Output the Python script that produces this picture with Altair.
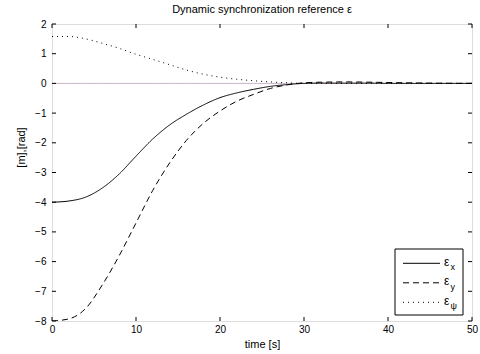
import altair as alt
import pandas as pd

# ---- data ----
t = [0, 2, 4, 6, 8, 10, 12, 14, 16, 18, 20, 22, 24, 26, 28, 30, 32, 35, 38, 40, 45, 50]
eps_x = [-4.00, -3.96, -3.83, -3.52, -3.05, -2.45, -1.87, -1.40, -1.04, -0.73, -0.48,
         -0.32, -0.20, -0.10, -0.04, 0.00, 0.01, 0.01, 0.01, 0.00, 0.00, 0.00]
eps_y = [-8.00, -7.93, -7.58, -6.78, -5.80, -4.70, -3.60, -2.68, -1.92, -1.35, -0.93,
         -0.60, -0.37, -0.17, -0.05, 0.02, 0.04, 0.05, 0.04, 0.03, 0.01, 0.00]
eps_psi = [1.58, 1.58, 1.50, 1.35, 1.18, 0.98, 0.81, 0.63, 0.45, 0.31, 0.21,
           0.14, 0.09, 0.05, 0.02, 0.00, 0.00, 0.00, 0.00, 0.00, 0.00, 0.00]
zero_ref = [0.0] * len(t)

series_names = ["x", "y", "psi"]
legend_subs = ["x", "y", "ψ"]
x_ticks = [0, 10, 20, 30, 40, 50]
y_ticks = [-8, -7, -6, -5, -4, -3, -2, -1, 0, 1, 2]

W, H = 420, 297
FONT = "Liberation Sans"
dashes = {"x": [1, 0], "y": [6, 4], "psi": [1, 4]}

rows = []
for name, vals in zip(series_names, [eps_x, eps_y, eps_psi]):
    for tt, v in zip(t, vals):
        rows.append({"t": tt, "v": v, "s": name})
df = pd.DataFrame(rows)
df_zero = pd.DataFrame({"t": t, "v": zero_ref})

xs = alt.Scale(domain=[0, 50], nice=False, zero=False)
ys = alt.Scale(domain=[-8, 2], nice=False, zero=False)

x_axis = alt.Axis(values=x_ticks, title="time [s]", ticks=False, domain=False,
                  grid=False, labelPadding=3, titlePadding=4,
                  labelOverlap=False, labelFlush=False, titleFontWeight="normal")
y_axis = alt.Axis(values=y_ticks, title="[m],[rad]", ticks=False, domain=False,
                  grid=False, labelPadding=6, titleX=-31, titleY=123,
                  titleAngle=270, titleAlign="center", titleBaseline="middle",
                  labelOverlap=False, labelFlush=False, titleFontWeight="normal")
x_enc = alt.X("t:Q", scale=xs, axis=x_axis)
y_enc = alt.Y("v:Q", scale=ys, axis=y_axis)

zero_line = alt.Chart(df_zero).mark_line(color="#cbb2c6", strokeWidth=1).encode(x=x_enc, y=y_enc)

curves = alt.Chart(df).mark_line(color="black", strokeWidth=1, interpolate="monotone", clip=True).encode(
    x=x_enc, y=y_enc,
    strokeDash=alt.StrokeDash("s:N", scale=alt.Scale(domain=series_names,
                                                     range=[dashes[s] for s in series_names]), legend=None),
    detail="s:N",
)

df_xt = pd.DataFrame({"t": x_ticks})
df_yt = pd.DataFrame({"v": y_ticks})
tick_len = 4
tb = alt.Chart(df_xt).mark_rule(color="black").encode(x=x_enc, y=alt.value(H), y2=alt.value(H - tick_len))
tt_ = alt.Chart(df_xt).mark_rule(color="black").encode(x=x_enc, y=alt.value(0), y2=alt.value(tick_len))
tl = alt.Chart(df_yt).mark_rule(color="black").encode(y=y_enc, x=alt.value(0), x2=alt.value(tick_len))
tr = alt.Chart(df_yt).mark_rule(color="black").encode(y=y_enc, x=alt.value(W), x2=alt.value(W - tick_len))

# ---- legend box (drawn inside plot) ----
lx0, lx1, ly0, ly1 = 343, 411, 225, 291
leg_layers = [
    alt.Chart(pd.DataFrame({"a": [0]})).mark_rect(fill="white", stroke="black", strokeWidth=1).encode(
        x=alt.value(lx0), x2=alt.value(lx1), y=alt.value(ly0), y2=alt.value(ly1))
]
for i, (name, sub) in enumerate(zip(series_names, legend_subs)):
    yy = 239.3 + i * 19.5
    d = pd.DataFrame({"lab": ["ε"], "sub": [sub]})
    leg_layers.append(alt.Chart(d).mark_rule(color="black", strokeWidth=1, strokeDash=dashes[name]).encode(
        x=alt.value(351), x2=alt.value(388), y=alt.value(yy)))
    leg_layers.append(alt.Chart(d).mark_text(font=FONT, fontSize=12, align="left", baseline="alphabetic",
                                             color="black").encode(
        text="lab:N", x=alt.value(392), y=alt.value(yy + 2.5)))
    leg_layers.append(alt.Chart(d).mark_text(font=FONT, fontSize=9, align="left", baseline="alphabetic",
                                             color="black").encode(
        text="sub:N", x=alt.value(398.5), y=alt.value(yy + 7)))

chart = alt.layer(zero_line, curves, tb, tt_, tl, tr, *leg_layers).properties(
    width=W, height=H,
    title=alt.Title("Dynamic synchronization reference ε", font=FONT, fontSize=11, fontWeight="normal",
                    anchor="middle", offset=4, color="black"),
    padding={"left": 52, "top": 24, "right": 8, "bottom": 33},
    autosize=alt.AutoSizeParams(type="none"),
).configure_view(stroke="black", strokeWidth=1).configure_axis(
    labelFont=FONT, labelFontSize=11, labelColor="black", labelOverlap=False, labelFlush=False,
    titleFont=FONT, titleFontSize=11, titleFontWeight="normal", titleColor="black",
).configure(background="white")

chart.save("out.html", embed_options={"renderer": "svg", "actions": False})
